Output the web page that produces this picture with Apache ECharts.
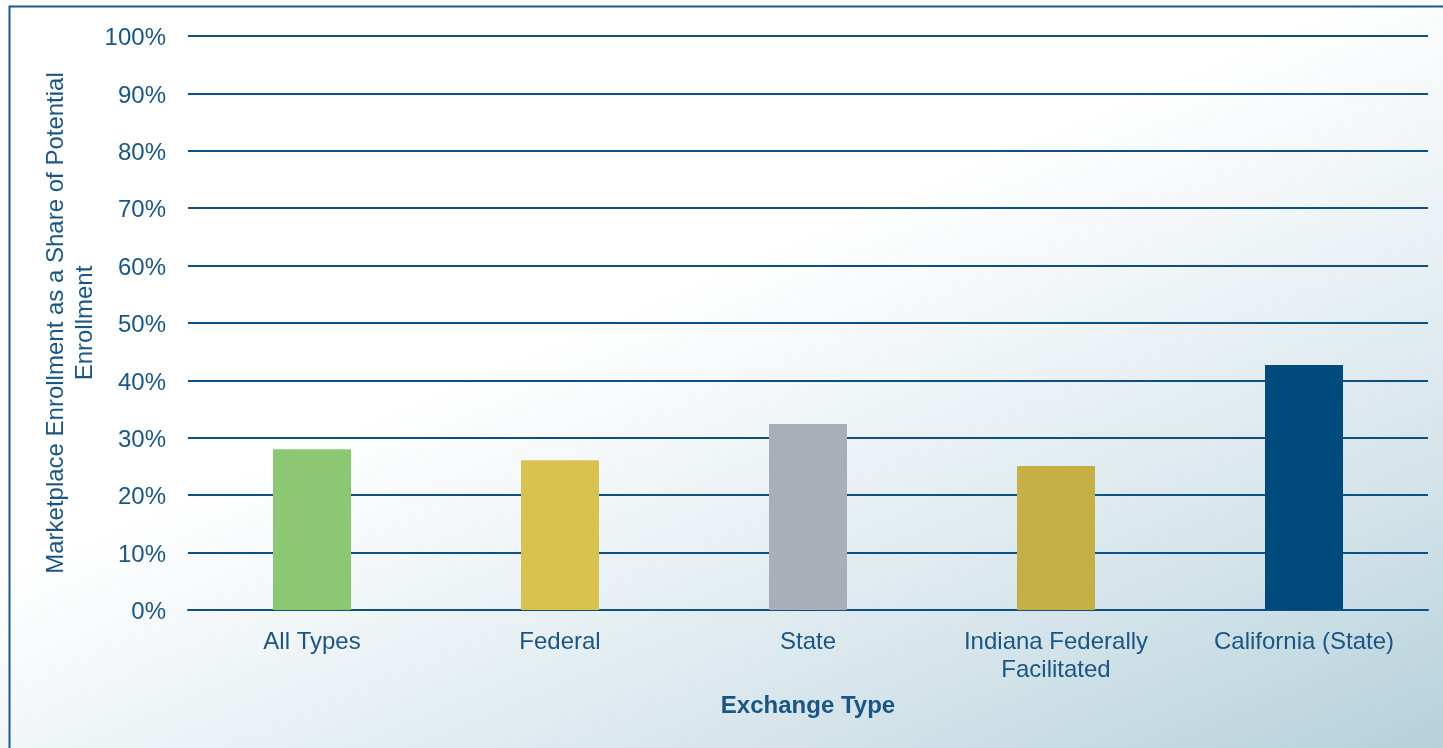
<!DOCTYPE html>
<html>
<head>
<meta charset="utf-8">
<script src="https://cdn.jsdelivr.net/npm/echarts@6/dist/echarts.min.js"></script>
<style>
html,body{margin:0;padding:0;}
#c{width:1443px;height:748px;}
</style>
</head>
<body>
<div id="c"></div>
<script>
var categories = ['All Types', 'Federal', 'State', 'Indiana Federally\nFacilitated', 'California (State)'];
var values = [28.0, 26.1, 32.4, 25.1, 42.7];
var barColors = ['#8cc774', '#d9c350', '#a9aeb8', '#c4b047', '#004a7c'];
var yTicks = [0, 10, 20, 30, 40, 50, 60, 70, 80, 90, 100];
var yAxisTitle = 'Marketplace Enrollment as a Share of Potential\nEnrollment';
var xAxisTitle = 'Exchange Type';

var textColor = '#1a5584';
var font = '"Liberation Sans", Arial, sans-serif';
var chart = echarts.init(document.getElementById('c'));
chart.setOption({
  backgroundColor: {
    type: 'linear', x: 0, y: 0, x2: 489, y2: 1153, global: true,
    colorStops: [
      {offset: 0, color: '#ffffff'},
      {offset: 0.42, color: '#ffffff'},
      {offset: 0.56, color: '#f0f5f7'},
      {offset: 0.78, color: '#d6e5eb'},
      {offset: 1, color: '#b6d1db'}
    ]
  },
  graphic: [{
    type: 'rect', left: 7, top: 4, silent: true,
    shape: {width: 1500, height: 800},
    style: {fill: 'none', stroke: '#1a5a8a', lineWidth: 2}
  }],
  grid: {left: 188, right: 15, top: 36, bottom: 138},
  xAxis: {
    type: 'category',
    data: categories,
    name: xAxisTitle,
    nameLocation: 'middle',
    nameGap: 84,
    nameMoveOverlap: false,
    nameTextStyle: {color: textColor, fontFamily: font, fontSize: 24, fontWeight: 'bold'},
    axisLine: {show: true, lineStyle: {color: '#0d5083', width: 2}},
    axisTick: {show: false},
    axisLabel: {color: textColor, fontFamily: font, fontSize: 24, lineHeight: 28, margin: 18, interval: 0}
  },
  yAxis: {
    type: 'value',
    min: yTicks[0], max: yTicks[yTicks.length - 1], interval: 10,
    name: yAxisTitle,
    nameLocation: 'middle',
    nameGap: 88,
    nameMoveOverlap: false,
    nameTextStyle: {color: textColor, fontFamily: font, fontSize: 24, lineHeight: 29, align: 'center'},
    axisLine: {show: false},
    axisTick: {show: false},
    splitLine: {show: true, lineStyle: {color: '#0d5083', width: 2}},
    axisLabel: {
      color: textColor, fontFamily: font, fontSize: 24, margin: 22,
      formatter: function (v) { return '{a|' + v + '%}'; },
      rich: {a: {color: textColor, fontFamily: font, fontSize: 24, padding: [5, 0, 0, 0]}}
    }
  },
  series: [{
    type: 'bar',
    barWidth: 78,
    data: values.map(function (v, i) { return {value: v, itemStyle: {color: barColors[i]}}; })
  }]
});
</script>
</body>
</html>
